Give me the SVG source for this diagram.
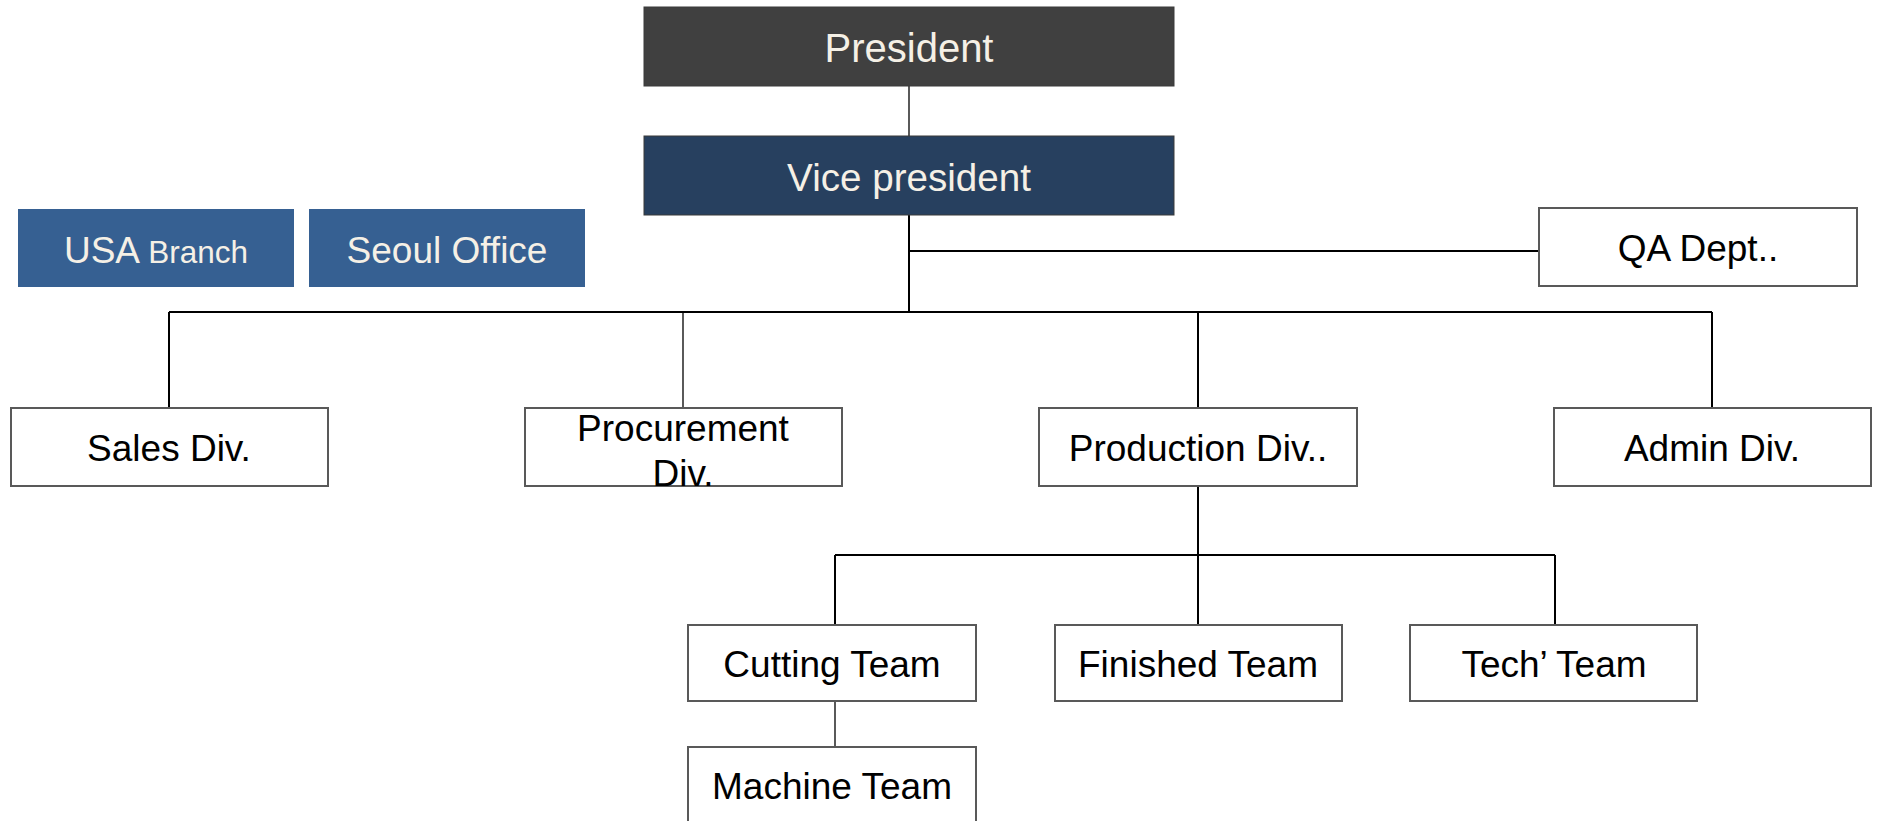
<svg xmlns="http://www.w3.org/2000/svg" width="1877" height="821" viewBox="0 0 1877 821">
<style>
.box{fill:#ffffff;stroke:#595959;stroke-width:2}
.t{font-family:"Liberation Sans",Arial,sans-serif;font-size:37px;fill:#000000;text-anchor:middle}
.w{fill:#f5f0e6}
.ln{stroke:#000000;stroke-width:2;fill:none}
.thin{stroke:#000000;stroke-width:1.3;fill:none}
</style>
<rect width="1877" height="821" fill="#ffffff"/>
<g id="connectors">
<line class="thin" x1="909" y1="86" x2="909" y2="136"/>
<line class="ln" x1="909" y1="215" x2="909" y2="312"/>
<line class="ln" x1="909" y1="251" x2="1539" y2="251"/>
<line class="ln" x1="169" y1="312" x2="1712" y2="312"/>
<line class="ln" x1="169" y1="312" x2="169" y2="408"/>
<line class="thin" x1="683" y1="312" x2="683" y2="408"/>
<line class="ln" x1="1198" y1="312" x2="1198" y2="408"/>
<line class="ln" x1="1712" y1="312" x2="1712" y2="408"/>
<line class="ln" x1="1198" y1="486" x2="1198" y2="625"/>
<line class="ln" x1="835" y1="555" x2="1555" y2="555"/>
<line class="ln" x1="835" y1="555" x2="835" y2="625"/>
<line class="ln" x1="1555" y1="555" x2="1555" y2="625"/>
<line class="thin" x1="835" y1="701" x2="835" y2="747"/>
</g>
<g id="president">
<rect x="644" y="7" width="530" height="79" fill="#404040" stroke="#3a3a3a" stroke-width="1"/>
<text class="t w" x="909" y="62" style="font-size:40px">President</text>
</g>
<g id="vice-president">
<rect x="644" y="136" width="530" height="79" fill="#27405f" stroke="#3a3a3a" stroke-width="1"/>
<text class="t w" x="909" y="191" style="font-size:38.6px">Vice president</text>
</g>
<g id="usa-branch">
<rect x="18" y="209" width="276" height="78" fill="#366092"/>
<text class="t w" x="156" y="263"><tspan>USA </tspan><tspan style="font-size:31.5px">Branch</tspan></text>
</g>
<g id="seoul-office">
<rect x="309" y="209" width="276" height="78" fill="#366092"/>
<text class="t w" x="447" y="263">Seoul Office</text>
</g>
<g id="qa-dept">
<rect class="box" x="1539" y="208" width="318" height="78"/>
<text class="t" x="1698" y="261">QA Dept..</text>
</g>
<g id="sales-div">
<rect class="box" x="11" y="408" width="317" height="78"/>
<text class="t" x="169" y="461">Sales Div.</text>
</g>
<g id="procurement-div">
<rect class="box" x="525" y="408" width="317" height="78"/>
<text class="t" x="683" y="441">Procurement</text>
<text class="t" x="683" y="486">Div.</text>
</g>
<g id="production-div">
<rect class="box" x="1039" y="408" width="318" height="78"/>
<text class="t" x="1198" y="461">Production Div..</text>
</g>
<g id="admin-div">
<rect class="box" x="1554" y="408" width="317" height="78"/>
<text class="t" x="1712" y="461">Admin Div.</text>
</g>
<g id="cutting-team">
<rect class="box" x="688" y="625" width="288" height="76"/>
<text class="t" x="832" y="677">Cutting Team</text>
</g>
<g id="finished-team">
<rect class="box" x="1055" y="625" width="287" height="76"/>
<text class="t" x="1198" y="677">Finished Team</text>
</g>
<g id="tech-team">
<rect class="box" x="1410" y="625" width="287" height="76"/>
<text class="t" x="1554" y="677">Tech’ Team</text>
</g>
<g id="machine-team">
<rect class="box" x="688" y="747" width="288" height="78"/>
<text class="t" x="832" y="799">Machine Team</text>
</g>
</svg>
